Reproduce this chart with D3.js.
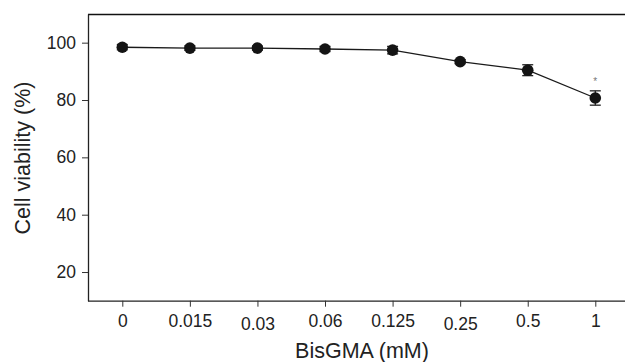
<!DOCTYPE html>
<html lang="en">
<head>
    <meta charset="UTF-8">
    <title>Cell viability</title>
    <script src="https://cdn.jsdelivr.net/npm/d3@7"></script>
    <style>
        body { margin: 0; background: #fff; }
        text { font-family: "Liberation Sans", Arial, sans-serif; fill: #222; }
    </style>
</head>
<body>
<svg id="chart" width="625" height="362"></svg>
<script>
    // values
    const doses = ["0", "0.015", "0.03", "0.06", "0.125", "0.25", "0.5", "1"];
    const viability = [98.4, 98.1, 98.1, 97.8, 97.4, 93.4, 90.4, 80.7];
    const errors = [0.9, 0.8, 0.7, 0.9, 1.3, 0.7, 1.9, 2.5];
    const starred = ["1"];
    const yTicks = [20, 40, 60, 80, 100];

    const svg = d3.select('#chart');
    const plotLeft = 88, plotTop = 14, plotRight = 625, plotBottom = 300.7;

    const x = d3.scalePoint().domain(doses).range([122.3, 595.3]);
    const y = d3.scaleLinear().domain([10, 110]).range([plotBottom, plotTop]);

    // frame: top line + axes
    svg.append("line")
        .attr("x1", plotLeft).attr("y1", plotTop + 0.5)
        .attr("x2", plotRight).attr("y2", plotTop + 0.5)
        .attr("stroke", "#111").attr("stroke-width", 1.3);

    const yAxis = svg.append("g")
        .attr("transform", `translate(${plotLeft},0)`)
        .call(d3.axisLeft(y).tickValues(yTicks).tickSize(6).tickPadding(6).tickSizeOuter(0));
    yAxis.select(".domain").attr("stroke", "#222").attr("stroke-width", 1.3);
    yAxis.selectAll(".tick line").attr("stroke", "#333");
    yAxis.selectAll("text").attr("font-size", "17.5px").attr("fill", "#222");

    const xAxis = svg.append("g")
        .attr("transform", `translate(0,${plotBottom})`)
        .call(d3.axisBottom(x).tickSize(6).tickPadding(8).tickSizeOuter(0));
    xAxis.select(".domain").attr("d", `M${plotLeft},0.5H${plotRight}`).attr("stroke", "#222").attr("stroke-width", 1.3);
    xAxis.selectAll(".tick line").attr("stroke", "#333");
    xAxis.selectAll("text").attr("font-size", "17.5px").attr("fill", "#222")
        .attr("dy", d => (d === "0.03" || d === "0.25") ? "0.85em" : "0.71em");

    // axis titles
    svg.append("text")
        .attr("x", 362).attr("y", 358)
        .attr("text-anchor", "middle")
        .attr("font-size", "21.5px")
        .text("BisGMA (mM)");

    svg.append("text")
        .attr("transform", "translate(30,158) rotate(-90)")
        .attr("text-anchor", "middle")
        .attr("font-size", "21.5px")
        .text("Cell viability (%)");

    // connecting line
    const line = d3.line()
        .x((d, i) => x(doses[i]))
        .y(d => y(d));
    svg.append("path")
        .datum(viability)
        .attr("d", line)
        .attr("fill", "none")
        .attr("stroke", "#1a1a1a")
        .attr("stroke-width", 1.3);

    // error bars
    const eb = svg.append("g").attr("stroke", "#222").attr("stroke-width", 1.3);
    doses.forEach((d, i) => {
        const cx = x(d), hi = y(viability[i] + errors[i]), lo = y(viability[i] - errors[i]);
        eb.append("line").attr("x1", cx).attr("x2", cx).attr("y1", hi).attr("y2", lo);
        eb.append("line").attr("x1", cx - 5.5).attr("x2", cx + 5.5).attr("y1", hi).attr("y2", hi);
        eb.append("line").attr("x1", cx - 5.5).attr("x2", cx + 5.5).attr("y1", lo).attr("y2", lo);
    });

    // markers
    svg.selectAll("circle.pt")
        .data(viability)
        .enter().append("circle")
        .attr("class", "pt")
        .attr("cx", (d, i) => x(doses[i]))
        .attr("cy", d => y(d))
        .attr("r", 5.8)
        .attr("fill", "#141414");

    // significance marks
    starred.forEach(d => {
        const i = doses.indexOf(d);
        svg.append("text")
            .attr("x", x(d)).attr("y", y(viability[i] + errors[i]) - 6)
            .attr("text-anchor", "middle")
            .attr("font-size", "10px")
            .style("fill", "#777")
            .text("*");
    });
</script>
</body>
</html>
